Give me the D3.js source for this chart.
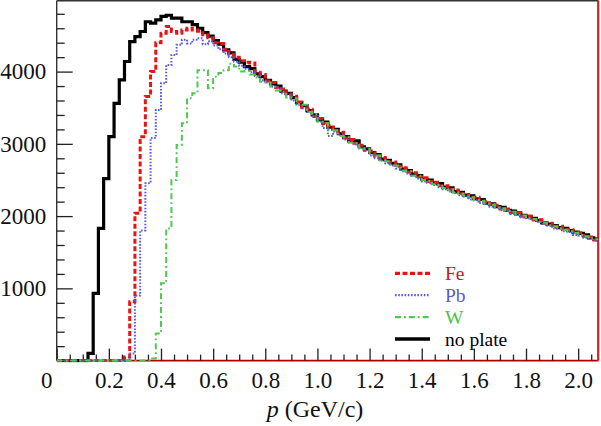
<!DOCTYPE html>
<html>
<head>
<meta charset="utf-8">
<script src="https://cdn.jsdelivr.net/npm/d3@7"></script>
<style>
  html, body { margin: 0; padding: 0; background: #fff; }
  svg { display: block; }
</style>
</head>
<body>
<div id="chart"></div>
<script>
// ---------------- data ----------------
const binStart = 0;      // GeV/c
const binWidth = 0.02;   // GeV/c
const seriesNames = ["Fe", "Pb", "W", "no plate"];

const noPlate = [
  0,0,0,0,0,0,100,930,1830,2520,
  3100,3560,3885,4140,4415,4485,4555,4690,4670,4715,
  4765,4780,4740,4740,4690,4690,4650,4600,4540,4490,
  4430,4380,4300,4260,4170,4130,4070,4040,3970,3930,
  3880,3830,3800,3730,3700,3640,3570,3530,3460,3400,
  3330,3300,3230,3200,3140,3100,3040,3040,2960,2930,
  2880,2850,2790,2770,2730,2710,2650,2630,2580,2560,
  2510,2500,2460,2450,2400,2390,2340,2330,2290,2280,
  2240,2230,2180,2170,2130,2120,2080,2070,2030,2010,
  1990,1970,1940,1910,1890,1870,1840,1830,1800,1780,
  1760,1740,1700,1680
];
const fe = [
  0,0,0,0,0,0,0,0,0,0,
  0,0,0,50,815,2040,3100,3655,4000,4400,
  4530,4625,4555,4530,4575,4600,4575,4560,4510,4470,
  4400,4390,4310,4240,4200,4150,4130,4120,3990,3960,
  3870,3850,3780,3760,3690,3660,3580,3500,3480,3380,
  3350,3280,3250,3180,3160,3080,3060,3010,2980,2910,
  2900,2830,2810,2750,2750,2690,2670,2610,2600,2540,
  2530,2480,2470,2420,2420,2370,2360,2310,2300,2260,
  2260,2210,2200,2160,2150,2100,2100,2050,2050,2000,
  2000,1950,1950,1900,1900,1850,1860,1810,1810,1770,
  1770,1720,1710,1670
];
const pb = [
  0,0,0,0,0,0,0,0,0,0,
  0,0,0,0,100,900,1800,2455,3080,3470,
  3840,4090,4230,4370,4440,4390,4440,4460,4380,4420,
  4360,4310,4250,4200,4140,4080,4040,3990,3940,3880,
  3850,3790,3770,3700,3680,3600,3540,3500,3440,3380,
  3310,3220,3110,3170,3120,3060,3020,2990,2940,2900,
  2840,2800,2770,2730,2700,2660,2620,2590,2560,2520,
  2480,2460,2430,2400,2370,2340,2320,2290,2270,2230,
  2220,2180,2170,2130,2120,2080,2070,2030,2020,1980,
  1970,1940,1920,1890,1870,1830,1830,1790,1780,1740,
  1730,1700,1690,1660
];
const w = [
  0,0,0,0,0,0,0,0,0,0,
  0,0,0,0,0,0,0,0,30,375,
  1070,1830,2500,2985,3285,3630,3700,4020,4020,3770,
  3930,3980,4020,4110,4070,4000,4010,3960,3920,3860,
  3850,3790,3740,3720,3640,3630,3550,3540,3440,3410,
  3310,3290,3200,3190,3110,3100,3020,3010,2940,2930,
  2850,2840,2770,2760,2700,2700,2630,2620,2560,2560,
  2500,2490,2440,2430,2390,2370,2330,2310,2280,2260,
  2220,2210,2170,2160,2120,2110,2070,2060,2020,2010,
  1970,1960,1920,1910,1870,1860,1830,1810,1790,1770,
  1740,1720,1690,1680
];

const xTickLabels = [0, 0.2, 0.4, 0.6, 0.8, 1.0, 1.2, 1.4, 1.6, 1.8, 2.0];
const yTickLabels = [1000, 2000, 3000, 4000];
const xDomain = [0, 2.078];
const yDomain = [0, 4980];

// ---------------- layout ----------------
const FONT = '"Liberation Serif", "Times New Roman", Tinos, Times, "DejaVu Serif", "Noto Serif", serif';
const WIDTH = 601, HEIGHT = 426;
const pL = 56.7, pR = 598.5, pT = 0.8, pB = 360.6;

const svg = d3.select("#chart").append("svg")
  .attr("width", WIDTH).attr("height", HEIGHT)
  .style("font-family", FONT);
svg.append("rect").attr("width", WIDTH).attr("height", HEIGHT).attr("fill", "#fff");

const x = d3.scaleLinear().domain(xDomain).range([pL, pR]);
const y = d3.scaleLinear().domain(yDomain).range([pB, pT]);

svg.append("defs").append("clipPath").attr("id", "plotclip")
  .append("rect").attr("x", pL).attr("y", pT - 2)
  .attr("width", pR - pL).attr("height", pB - pT + 4);

// frame: top & left dark, bottom & right red
svg.append("line").attr("x1", pL).attr("x2", pR).attr("y1", pT).attr("y2", pT)
  .attr("stroke", "#333").attr("stroke-width", 1.4);
svg.append("line").attr("x1", pL).attr("x2", pL).attr("y1", pT).attr("y2", pB)
  .attr("stroke", "#333").attr("stroke-width", 1.4);
svg.append("line").attr("x1", pL).attr("x2", pR).attr("y1", pB).attr("y2", pB)
  .attr("stroke", "#b00000").attr("stroke-width", 1.6);
svg.append("line").attr("x1", pR - 0.3).attr("x2", pR - 0.3).attr("y1", pT).attr("y2", pB)
  .attr("stroke", "#d81e1e").attr("stroke-width", 2.2);

// ---------------- axes ----------------
const fontSize = 23;
// x minor ticks
const xMinor = d3.range(0, 42).map(i => i * 0.05)
  .filter(v => v <= xDomain[1] && Math.abs(v / 0.2 - Math.round(v / 0.2)) > 1e-6);
svg.append("g").attr("transform", `translate(0,${pB})`)
  .call(d3.axisBottom(x).tickValues(xMinor).tickSizeInner(-6).tickSizeOuter(0).tickFormat(""))
  .call(g => g.select(".domain").remove())
  .call(g => g.selectAll("line").attr("stroke", "#222").attr("stroke-width", 1.3));
// x major ticks + labels
const xAxisG = svg.append("g").attr("transform", `translate(0,${pB})`)
  .call(d3.axisBottom(x).tickValues(xTickLabels).tickSizeInner(-12).tickSizeOuter(0).tickPadding(11)
    .tickFormat(d => d === 0 ? "0" : d3.format(".1f")(d)))
  .attr("font-family", FONT)
  .call(g => g.select(".domain").remove())
  .call(g => g.selectAll("line").attr("stroke", "#222").attr("stroke-width", 1.3))
  .call(g => g.selectAll("text").attr("font-size", fontSize).attr("fill", "#111")
    .style("font-family", FONT));
xAxisG.selectAll(".tick").filter(d => d === 0).select("text").attr("dx", -10.5);

// y minor ticks
const yMinor = d3.range(1, 25).map(i => i * 200).filter(v => v % 1000 !== 0);
svg.append("g").attr("transform", `translate(${pL},0)`)
  .call(d3.axisLeft(y).tickValues(yMinor).tickSizeInner(-8).tickSizeOuter(0).tickFormat(""))
  .call(g => g.select(".domain").remove())
  .call(g => g.selectAll("line").attr("stroke", "#222").attr("stroke-width", 1.3));
// y major ticks + labels
svg.append("g").attr("transform", `translate(${pL},0)`)
  .call(d3.axisLeft(y).tickValues(yTickLabels).tickSizeInner(-16).tickSizeOuter(0).tickPadding(10.5)
    .tickFormat(d3.format("d")))
  .attr("font-family", FONT)
  .call(g => g.select(".domain").remove())
  .call(g => g.selectAll("line").attr("stroke", "#222").attr("stroke-width", 1.3))
  .call(g => g.selectAll("text").attr("font-size", fontSize).attr("fill", "#111")
    .style("font-family", FONT));

// axis title
const title = svg.append("text").attr("x", 315).attr("y", 417)
  .attr("text-anchor", "middle").attr("font-size", 24).attr("fill", "#111")
  .style("font-family", FONT);
title.append("tspan").attr("font-style", "italic").text("p");
title.append("tspan").text(" (GeV/c)");

// ---------------- histograms ----------------
const styles = {
  "no plate": { data: noPlate, color: "#000000", width: 3.2, dash: null },
  "Fe": { data: fe, color: "#e81414", width: 3.0, dash: "5,2.5" },
  "Pb": { data: pb, color: "#5a5ae0", width: 2.0, dash: "1.6,1.6" },
  "W":  { data: w,  color: "#4fc84f", width: 2.0, dash: "6,3,1.8,3" }
};

function histPoints(vals) {
  const pts = vals.map((v, i) => [binStart + i * binWidth, v]);
  pts.push([binStart + vals.length * binWidth, vals[vals.length - 1]]);
  return pts;
}
const line = d3.line().x(d => x(d[0])).y(d => y(d[1])).curve(d3.curveStepAfter);

const plotG = svg.append("g").attr("clip-path", "url(#plotclip)");
["no plate", "Fe", "Pb", "W"].forEach(name => {
  const s = styles[name];
  plotG.append("path").datum(histPoints(s.data))
    .attr("d", line)
    .attr("fill", "none")
    .attr("stroke", s.color)
    .attr("stroke-width", s.width)
    .attr("stroke-dasharray", s.dash)
    .attr("stroke-linejoin", "miter");
});

// ---------------- legend ----------------
const legendTextColors = { "Fe": "#e01010", "Pb": "#5a5ad0", "W": "#4cbf4c", "no plate": "#000" };
const legend = svg.append("g");
seriesNames.forEach((name, i) => {
  const s = styles[name];
  const ly = 273.3 + i * 21.9;
  legend.append("line").attr("x1", 395).attr("x2", 430).attr("y1", ly).attr("y2", ly)
    .attr("stroke", s.color).attr("stroke-width", s.width + 0.3)
    .attr("stroke-dasharray", s.dash);
  legend.append("text").attr("x", 445).attr("y", ly + 6.8)
    .attr("font-size", 19.5).attr("fill", legendTextColors[name])
    .style("font-family", FONT).text(name);
});
</script>
</body>
</html>
